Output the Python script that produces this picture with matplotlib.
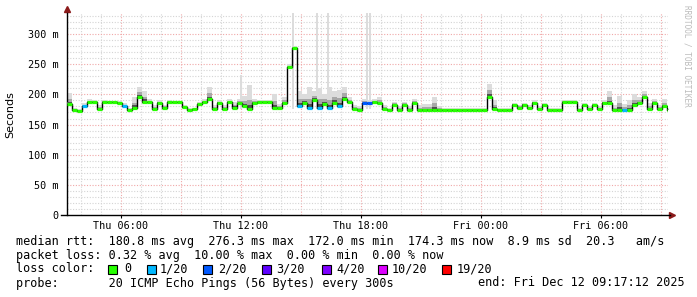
import numpy as np
import matplotlib.pyplot as plt

# 5-minute smokeping data, read every 15 min (hours since Thu 00:00)
t0 = 3.3
step = 0.25
median = [184, 174, 173, 180, 187, 187, 176, 187, 187, 187, 186, 180, 174, 178, 196, 188,
          187, 176, 186, 177, 187, 187, 187, 179, 174, 175, 184, 187, 192, 175, 186, 176,
          187, 178, 185, 180, 176, 186, 187, 187, 187, 177, 178, 186, 245, 277, 180, 185,
          178, 190, 178, 184, 177, 186, 180, 192, 187, 175, 174, 185, 185, 187, 186, 176,
          174, 183, 174, 183, 174, 186, 174,
          174, 174, 174, 174, 174, 174, 174, 174, 174, 174, 174, 174, 174,
          195, 176, 174, 174, 174, 183, 178, 183, 177, 186, 176, 183, 174, 174, 174, 187,
          187, 187, 174, 182, 176, 182, 175, 186, 185, 174, 174, 174, 174, 182, 185, 196,
          176, 186, 176, 180, 174]
smoke_hi = [202, 178, 176, 186, 192, 190, 182, 190, 189, 189, 189, 186, 178, 195, 212, 205,
            192, 182, 190, 183, 190, 189, 189, 183, 177, 178, 188, 192, 212, 182, 190, 182,
            192, 188, 192, 198, 215, 192, 190, 190, 190, 200, 184, 195, 250, 280, 205, 200,
            212, 205, 210, 200, 212, 205, 208, 212, 195, 182, 180, 192, 190, 192, 195, 182,
            178, 188, 180, 188, 180, 192, 182, 184, 184, 196, 180,
            177, 177, 177, 177, 177, 177, 177, 177, 177,
            218, 190, 178, 178, 178, 186, 182, 186, 182, 190, 180, 186, 178, 178, 178, 190,
            190, 190, 178, 185, 180, 185, 180, 190, 205, 182, 198, 184, 190, 200, 195, 205,
            186, 192, 182, 192, 178]
# single slow pings (thin light smoke spikes)
spike_t = [12.0, 14.6, 15.8, 16.35, 18.3, 18.45]
spike_top = [232, 340, 340, 340, 340, 340]
loss_idx = [3, 11, 46, 48, 50, 52, 54, 59, 60, 111]
loss_val = [1, 1, 1, 1, 1, 1, 1, 2, 2, 1]

loss_labels = ['0', '1/20', '2/20', '3/20', '4/20', '10/20', '19/20']
loss_colors = ['#26ff00', '#00b8ff', '#0059ff', '#5e00ff', '#7e00ff', '#dd00ff', '#ff0000']

W, H = 697, 297
fig = plt.figure(figsize=(W / 100, H / 100), dpi=100, facecolor='white')
ax = fig.add_axes([67 / W, 1 - 215 / H, 601 / W, 202 / H])

n = len(median)
t = t0 + step * np.arange(n)
med = np.array(median, float)
hi = np.array(smoke_hi, float)
loss = np.zeros(n, int)
loss[loss_idx] = loss_val

# grid
for h in range(4, 34):
    c = '#f0a8a8' if h % 3 == 0 else '#d4d4d4'
    ax.axvline(h, color=c, lw=0.8, ls=(0, (1, 1.5)), zorder=0)
for v in range(10, 340, 10):
    c = '#f0a8a8' if v % 50 == 0 else '#d4d4d4'
    ax.axhline(v, color=c, lw=0.8, ls=(0, (1, 1.5)), zorder=0)

# smoke
ax.bar(spike_t, np.array(spike_top) - 175, bottom=175, width=0.12, color='#dcdcdc',
       lw=0, zorder=1)
tt = np.append(t, t[-1] + step)
base = np.append(med, med[-1])
ax.fill_between(tt, base, np.append(hi, hi[-1]), step='post', color='#dcdcdc', lw=0, zorder=1)
mid = med + np.minimum(0.5 * (hi - med), 14)
dark = med + np.minimum(0.22 * (hi - med), 6)
ax.fill_between(tt, base, np.append(mid, mid[-1]), step='post', color='#a8a8a8', lw=0, zorder=2)
ax.fill_between(tt, base, np.append(dark, dark[-1]), step='post', color='#505050', lw=0, zorder=3)

# median
ax.step(tt, base, where='post', color='black', lw=1.0, zorder=4)
for i in range(n):
    ax.hlines(med[i], t[i], t[i] + step, color=loss_colors[loss[i]], lw=2.3, zorder=5)

ax.set_xlim(t0, 33.35)
ax.set_ylim(0, 335)
ax.set_yticks([0, 50, 100, 150, 200, 250, 300])
ax.set_yticklabels(['0', '50 m', '100 m', '150 m', '200 m', '250 m', '300 m'])
ax.set_xticks([6, 12, 18, 24, 30])
ax.set_xticklabels(['Thu 06:00', 'Thu 12:00', 'Thu 18:00', 'Fri 00:00', 'Fri 06:00'])
ax.tick_params(axis='y', length=0, pad=6, labelsize=7.3)
ax.tick_params(axis='x', length=2, pad=2, labelsize=7.3)
for lab in ax.get_xticklabels() + ax.get_yticklabels():
    lab.set_family('DejaVu Sans Mono')
for s in ['top', 'right']:
    ax.spines[s].set_visible(False)
ax.spines['left'].set_linewidth(1)
ax.spines['bottom'].set_linewidth(1)
ax.spines['bottom'].set_bounds(3.0, 33.45)
ax.set_facecolor('white')

# arrows
ax.plot([t0], [341], marker='^', color='#8b1a1a', ms=4, clip_on=False)
ax.plot([33.55], [0], marker='>', color='#8b1a1a', ms=4, clip_on=False)

fig.text(10 / W, 1 - 115 / H, 'Seconds', rotation=90, va='center', ha='center', fontsize=8)
fig.text(687 / W, 1 - 5 / H, 'RRDTOOL / TOBI OETIKER', rotation=270, va='top', ha='center',
         fontsize=5.6, family='DejaVu Sans Mono', color='#bbbbbb')

mono = dict(family='DejaVu Sans Mono', fontsize=8.5, va='center', ha='left')
fig.text(16 / W, 1 - 241 / H,
         'median rtt:  180.8 ms avg  276.3 ms max  172.0 ms min  174.3 ms now  8.9 ms sd  20.3   am/s',
         **mono)
fig.text(16 / W, 1 - 255 / H,
         'packet loss: 0.32 % avg  10.00 % max  0.00 % min  0.00 % now', **mono)
fig.text(16 / W, 1 - 269 / H, 'loss color:', **mono)
box_x = [108, 147, 203, 262, 322, 378, 442]
lab_x = [124, 160, 218, 276, 336, 392, 457]
for bx, lx, lab, c in zip(box_x, lab_x, loss_labels, loss_colors):
    fig.patches.append(plt.Rectangle((bx / W, 1 - 273.5 / H), 9 / W, 9 / H,
                                     transform=fig.transFigure, facecolor=c,
                                     edgecolor='black', lw=0.8))
    fig.text(lx / W, 1 - 269 / H, lab, **mono)
fig.text(16 / W, 1 - 283 / H, 'probe:       20 ICMP Echo Pings (56 Bytes) every 300s', **mono)
fig.text(478 / W, 1 - 283 / H, 'end: Fri Dec 12 09:17:12 2025', **mono)

fig.savefig('out.png', dpi=100, facecolor='white')
